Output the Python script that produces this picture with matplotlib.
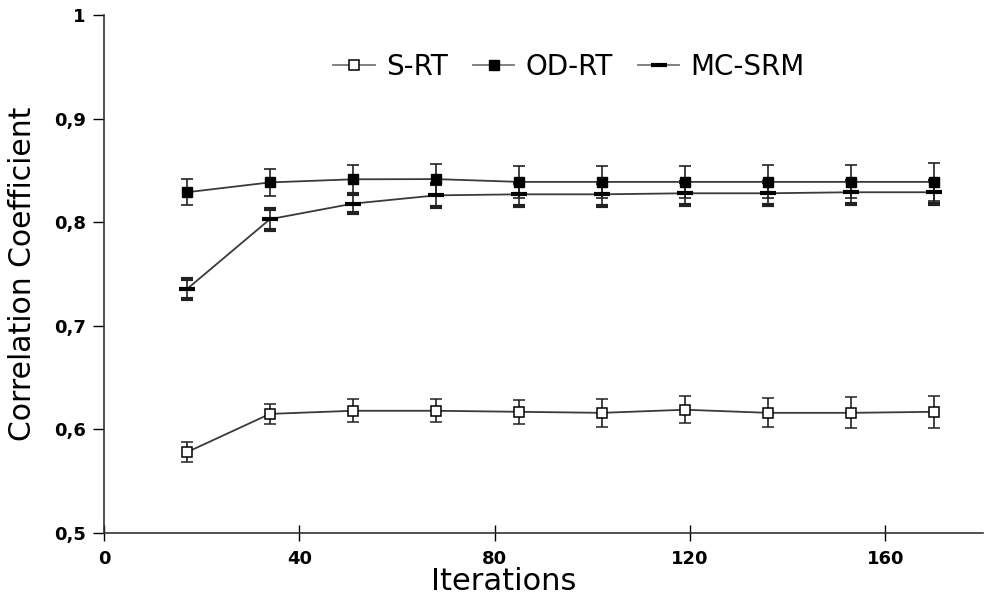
import matplotlib
matplotlib.use("Agg")
from matplotlib import pyplot as plt
from matplotlib.lines import Line2D

iterations = [17, 34, 51, 68, 85, 102, 119, 136, 153, 170]

s_rt = [0.578, 0.615, 0.618, 0.618, 0.617, 0.616, 0.619, 0.616, 0.616, 0.617]
s_rt_err = [0.0095, 0.0097, 0.011, 0.011, 0.0115, 0.0135, 0.013, 0.014, 0.015, 0.0155]

od_rt = [0.829, 0.8385, 0.8415, 0.8417, 0.839, 0.839, 0.839, 0.839, 0.839, 0.839]
od_rt_err = [0.0125, 0.013, 0.014, 0.015, 0.0155, 0.0155, 0.0155, 0.016, 0.016, 0.018]

mc_srm = [0.7355, 0.803, 0.818, 0.826, 0.827, 0.827, 0.828, 0.828, 0.829, 0.829]
mc_srm_err = [0.010, 0.010, 0.0095, 0.011, 0.011, 0.011, 0.011, 0.011, 0.011, 0.011]

y_ticks = [0.5, 0.6, 0.7, 0.8, 0.9, 1.0]
y_tick_labels = ["0,5", "0,6", "0,7", "0,8", "0,9", "1"]
x_ticks = [0, 40, 80, 120, 160]

fig = plt.figure(figsize=(9.99, 6.06), dpi=100)
ax = fig.add_axes([0.104, 0.1205, 0.88, 0.8545])

line_col = "#3a3a3a"
common = dict(color=line_col, lw=1.3, ecolor="#222222", elinewidth=1.2, capsize=4.5, capthick=1.2)

s_style = dict(marker="s", ms=6.5, mfc="white", mec="black", mew=1.1)
od_style = dict(marker="s", ms=7, mfc="black", mec="black")
mc_style = dict(marker="_", ms=11, mew=3, mec="black")

ax.errorbar(iterations, s_rt, yerr=s_rt_err, **s_style, **common)
ax.errorbar(iterations, od_rt, yerr=od_rt_err, **od_style, **common)
ax.errorbar(iterations, mc_srm, yerr=mc_srm_err, **mc_style, **common)

ax.set_xlim(0, 180)
ax.set_ylim(0.5, 1.0)
ax.set_yticks(y_ticks)
ax.set_yticklabels(y_tick_labels)
ax.set_xticks(x_ticks)

for side in ("top", "right"):
    ax.spines[side].set_visible(False)
for side in ("left", "bottom"):
    ax.spines[side].set_color("#333333")
    ax.spines[side].set_linewidth(1.2)

ax.tick_params(axis="y", direction="out", length=8, width=1, pad=5, labelsize=13)
ax.tick_params(axis="x", direction="inout", length=12, width=1, pad=6, labelsize=13)
for lab in ax.get_xticklabels() + ax.get_yticklabels():
    lab.set_fontweight("bold")

ax.set_xlabel("Iterations", fontsize=22)
ax.xaxis.set_label_coords(0.455, -0.065)
ax.set_ylabel("Correlation Coefficient", fontsize=21.5, labelpad=12)

# legend handles without the error bars
handles = [
    Line2D([], [], color="#777777", lw=1.3, **s_style),
    Line2D([], [], color="#777777", lw=1.3, **od_style),
    Line2D([], [], color="#777777", lw=1.3, **mc_style),
]
ax.legend(handles, ["S-RT", "OD-RT", "MC-SRM"], loc="upper center", bbox_to_anchor=(0.529, 0.975),
          ncol=3, frameon=False, fontsize=20, handlelength=1.5, handletextpad=0.4, columnspacing=0.9)

fig.savefig("out.png", dpi=100)
